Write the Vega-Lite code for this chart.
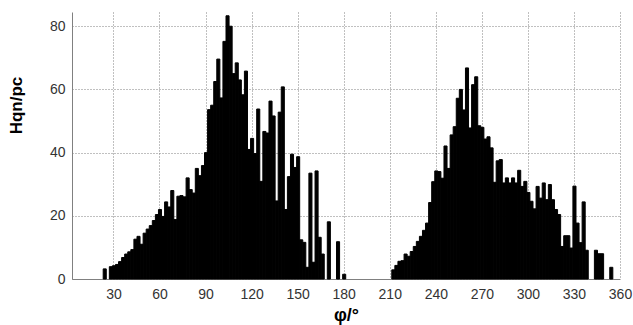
{
  "$schema": "https://vega.github.io/schema/vega-lite/v6.json",
  "width": 548,
  "height": 267,
  "autosize": "none",
  "padding": {"left": 72, "top": 12, "right": 13, "bottom": 46},
  "background": "white",
  "config": {"view": {"stroke": null}, "font": "Liberation Sans"},
  "data": {"values": [
    {"s": 23, "h": 3.2}, {"s": 27, "h": 3.9}, {"s": 29, "h": 4.2}, {"s": 31, "h": 4.6}, {"s": 33, "h": 5.5},
    {"s": 35, "h": 6.8}, {"s": 37, "h": 7.9}, {"s": 39, "h": 8.6}, {"s": 41, "h": 9.3}, {"s": 43, "h": 12.6},
    {"s": 45, "h": 13.5}, {"s": 47, "h": 11}, {"s": 49, "h": 14.5}, {"s": 51, "h": 15.8}, {"s": 53, "h": 16.9},
    {"s": 55, "h": 18.5}, {"s": 57, "h": 20.4}, {"s": 59, "h": 22}, {"s": 61, "h": 19.8}, {"s": 63, "h": 24.4},
    {"s": 65, "h": 22.8}, {"s": 67, "h": 28}, {"s": 69, "h": 18.8}, {"s": 71, "h": 26.2}, {"s": 73, "h": 26.4},
    {"s": 75, "h": 26}, {"s": 77, "h": 32}, {"s": 79, "h": 28.3}, {"s": 81, "h": 27.2}, {"s": 83, "h": 35},
    {"s": 85, "h": 32.7}, {"s": 87, "h": 35.9}, {"s": 89, "h": 40}, {"s": 91, "h": 53.6}, {"s": 93, "h": 55},
    {"s": 95, "h": 62.5}, {"s": 97, "h": 69.6}, {"s": 99, "h": 57.3}, {"s": 101, "h": 75.2}, {"s": 103, "h": 83.3},
    {"s": 105, "h": 80}, {"s": 107, "h": 65}, {"s": 109, "h": 68.4}, {"s": 111, "h": 63}, {"s": 113, "h": 58.3},
    {"s": 115, "h": 65.8}, {"s": 117, "h": 41}, {"s": 119, "h": 44.5}, {"s": 121, "h": 39.7}, {"s": 123, "h": 53.8},
    {"s": 125, "h": 30.9}, {"s": 127, "h": 46.7}, {"s": 129, "h": 46.2}, {"s": 131, "h": 56.3}, {"s": 133, "h": 51.6},
    {"s": 135, "h": 24.7}, {"s": 137, "h": 52.8}, {"s": 139, "h": 60.8}, {"s": 141, "h": 22}, {"s": 143, "h": 32.4},
    {"s": 145, "h": 39.5}, {"s": 147, "h": 35.3}, {"s": 149, "h": 38.7}, {"s": 151, "h": 12.4}, {"s": 153, "h": 11.6},
    {"s": 155, "h": 3.7}, {"s": 157, "h": 33.5}, {"s": 159, "h": 5.3}, {"s": 161, "h": 34.2}, {"s": 163, "h": 13.2},
    {"s": 165, "h": 7.9}, {"s": 169, "h": 18.1}, {"s": 175, "h": 11.8}, {"s": 179, "h": 1.5},
    {"s": 211, "h": 2.9}, {"s": 213, "h": 4.3}, {"s": 215, "h": 5.6}, {"s": 217, "h": 5.8}, {"s": 219, "h": 7.9},
    {"s": 221, "h": 7.2}, {"s": 223, "h": 8.7}, {"s": 225, "h": 10.3}, {"s": 227, "h": 11.9}, {"s": 229, "h": 13.5},
    {"s": 231, "h": 15.4}, {"s": 233, "h": 17.7}, {"s": 235, "h": 24.2}, {"s": 237, "h": 30.8}, {"s": 239, "h": 34.2},
    {"s": 241, "h": 34}, {"s": 243, "h": 31.9}, {"s": 245, "h": 42.1}, {"s": 247, "h": 35}, {"s": 249, "h": 45.6},
    {"s": 251, "h": 48.2}, {"s": 253, "h": 57.2}, {"s": 255, "h": 60}, {"s": 257, "h": 53.5}, {"s": 259, "h": 66.8},
    {"s": 261, "h": 47.8}, {"s": 263, "h": 61.5}, {"s": 265, "h": 64}, {"s": 267, "h": 48.5}, {"s": 269, "h": 48},
    {"s": 271, "h": 44.3}, {"s": 273, "h": 45}, {"s": 275, "h": 41.5}, {"s": 277, "h": 30.6}, {"s": 279, "h": 37.4},
    {"s": 281, "h": 37.8}, {"s": 283, "h": 30.4}, {"s": 285, "h": 32}, {"s": 287, "h": 30.4}, {"s": 289, "h": 32},
    {"s": 291, "h": 30.4}, {"s": 293, "h": 34.4}, {"s": 295, "h": 29.3}, {"s": 297, "h": 30.9}, {"s": 299, "h": 27.4},
    {"s": 301, "h": 24.6}, {"s": 303, "h": 22.2}, {"s": 305, "h": 29.3}, {"s": 307, "h": 25.6}, {"s": 309, "h": 30.4},
    {"s": 311, "h": 25.1}, {"s": 313, "h": 29.9}, {"s": 315, "h": 25.1}, {"s": 317, "h": 22}, {"s": 319, "h": 20.4},
    {"s": 321, "h": 10.3}, {"s": 323, "h": 13.7}, {"s": 325, "h": 13.7}, {"s": 327, "h": 9.8}, {"s": 329, "h": 29.4},
    {"s": 331, "h": 17.7}, {"s": 333, "h": 11.5}, {"s": 335, "h": 24.4}, {"s": 337, "h": 9.1}, {"s": 343, "h": 9.1},
    {"s": 345, "h": 8}, {"s": 347, "h": 8}, {"s": 353, "h": 3.7}
  ]},
  "mark": {"type": "bar", "color": "black", "stroke": "black", "strokeWidth": 1, "binSpacing": 0},
  "encoding": {
    "x": {
      "field": "s", "type": "quantitative",
      "bin": {"binned": true, "step": 2},
      "scale": {"domain": [3, 360], "nice": false, "zero": false},
      "axis": {
        "values": [30, 60, 90, 120, 150, 180, 210, 240, 270, 300, 330, 360],
        "title": "φ/°",
        "grid": true, "gridColor": "#808080", "gridDash": [1, 2], "gridWidth": 1,
        "ticks": false, "tickSize": 0,
        "labelPadding": 8, "labelFontSize": 14, "labelColor": "#333333", "labelFlush": false,
        "domainColor": "#808080", "domainWidth": 1,
        "titleFontSize": 18, "titleColor": "black", "titleFontWeight": "bold", "titlePadding": 5
      }
    },
    "y": {
      "field": "h", "type": "quantitative",
      "scale": {"domain": [0, 84.5], "nice": false},
      "axis": {
        "values": [0, 20, 40, 60, 80],
        "title": "Hqn/pc",
        "grid": true, "gridColor": "#808080", "gridDash": [1, 2], "gridWidth": 1,
        "ticks": false, "tickSize": 0,
        "labelPadding": 7, "labelFontSize": 14, "labelColor": "#333333",
        "domainColor": "#808080", "domainWidth": 1,
        "titleFontSize": 17, "titleColor": "black", "titleFontWeight": "bold",
        "titleX": -56, "titleY": 93, "titleBaseline": "middle", "titleAlign": "center"
      }
    }
  }
}
